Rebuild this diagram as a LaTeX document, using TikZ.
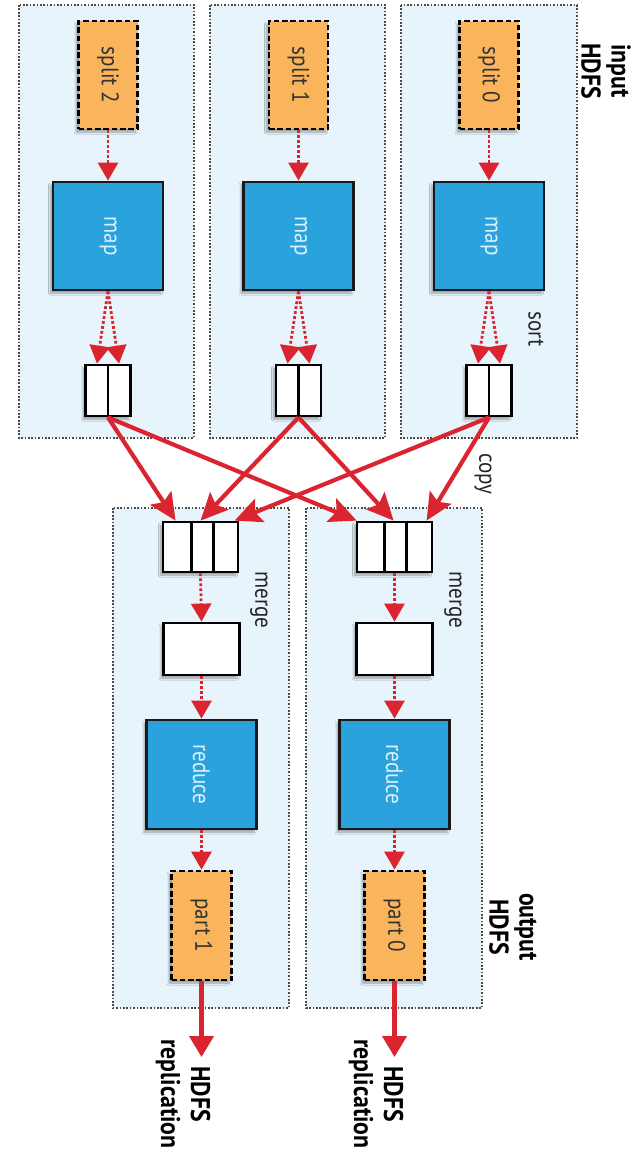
\documentclass[tikz,border=0pt]{standalone}
\usepackage{fontspec}
\setmainfont{PT Sans}
\newfontfamily\condfont[FakeStretch=0.88]{PT Sans}
\usetikzlibrary{arrows.meta,shadows.blur,calc}

\definecolor{panelfill}{HTML}{E8F4FB}
\definecolor{panelline}{HTML}{4A4A4A}
\definecolor{filefill}{HTML}{F9B45C}
\definecolor{taskfill}{HTML}{2AA2DD}
\definecolor{tasktext}{HTML}{DDF0FB}
\definecolor{flowred}{HTML}{DA2430}

\tikzset{
  panel/.style={draw=panelline, line width=1.4pt, dash pattern=on 1.7pt off 1.7pt, fill=panelfill},
  softshadow/.style={blur shadow={shadow xshift=-2.5pt, shadow yshift=-3pt, shadow blur steps=6, shadow opacity=35}},
  filebox/.style={draw=black, line width=2.8pt, dash pattern=on 5.5pt off 2.8pt, fill=filefill,
    text=black!80, font=\condfont\fontsize{24}{26}\selectfont, inner sep=0pt, softshadow},
  taskbox/.style={draw=black!90, line width=2.8pt, fill=taskfill, text=tasktext,
    font=\condfont\fontsize{24}{26}\selectfont, inner sep=0pt, softshadow},
  bufbox/.style={draw=black, line width=2.8pt, fill=white, inner sep=0pt, softshadow},
  divider/.style={draw=black, line width=2.8pt},
  flow/.style={draw=flowred, line width=2.8pt, dash pattern=on 2.8pt off 2.2pt,
    -{Triangle[length=18pt,width=20pt]}},
  copyflow/.style={draw=flowred, line width=4.2pt, -{Stealth[length=27pt,width=25pt,inset=5pt]}},
  outflow/.style={draw=flowred, line width=4.2pt, -{Triangle[length=21pt,width=24pt]}},
  note/.style={rotate=-90, text=black!85, font=\condfont\fontsize{24}{26}\selectfont, inner sep=0pt},
  heading/.style={rotate=-90, align=center, text=black, font=\condfont\bfseries\fontsize{27}{30}\selectfont, inner sep=0pt},
}

\begin{document}
\begin{tikzpicture}[x=1pt,y=-1pt]
\useasboundingbox (0,0) rectangle (638,1151);

% map-side panels (one per input split)
\draw[panel] (19,5) rectangle (194,438);
\draw[panel] (210,5) rectangle (385,438);
\draw[panel] (401,5) rectangle (577,438);

% reduce-side panels
\draw[panel] (113,508) rectangle (289,1008);
\draw[panel] (306,508) rectangle (482,1008);

% input splits
\node[filebox, minimum width=59pt, minimum height=108pt] (s2) at (108,75) {\rotatebox{-90}{split 2}};
\node[filebox, minimum width=59pt, minimum height=108pt] (s1) at (298.5,75) {\rotatebox{-90}{split 1}};
\node[filebox, minimum width=59pt, minimum height=108pt] (s0) at (489,75) {\rotatebox{-90}{split 0}};

% map tasks
\node[taskbox, minimum width=110pt, minimum height=108pt] (m2) at (108,236) {\rotatebox{-90}{map}};
\node[taskbox, minimum width=110pt, minimum height=108pt] (m1) at (298.5,236) {\rotatebox{-90}{map}};
\node[taskbox, minimum width=110pt, minimum height=108pt] (m0) at (489,236) {\rotatebox{-90}{map}};

% sorted map outputs, two partitions each
\node[bufbox, minimum width=45pt, minimum height=51pt] (b2) at (108,390.5) {};
\node[bufbox, minimum width=45pt, minimum height=51pt] (b1) at (298.5,390.5) {};
\node[bufbox, minimum width=45pt, minimum height=51pt] (b0) at (489,390.5) {};
\foreach \b in {b0,b1,b2} \draw[divider] (\b.north) -- (\b.south);

% merge buffers on the reduce side
\node[bufbox, minimum width=75pt, minimum height=50pt] (g1) at (200.5,547) {};
\node[bufbox, minimum width=75pt, minimum height=50pt] (g0) at (394.5,547) {};
\draw[divider] ([xshift=30pt]g1.north west) -- ([xshift=30pt]g1.south west);
\draw[divider] ([xshift=52pt]g1.north west) -- ([xshift=52pt]g1.south west);
\draw[divider] ([xshift=29pt]g0.north west) -- ([xshift=29pt]g0.south west);
\draw[divider] ([xshift=51pt]g0.north west) -- ([xshift=51pt]g0.south west);

% merged reduce inputs
\node[bufbox, minimum width=76pt, minimum height=52pt] (w1) at (201.5,649) {};
\node[bufbox, minimum width=76pt, minimum height=52pt] (w0) at (394.5,649) {};

% reduce tasks
\node[taskbox, minimum width=110pt, minimum height=109pt] (r1) at (201.5,774.5) {\rotatebox{-90}{reduce}};
\node[taskbox, minimum width=110pt, minimum height=109pt] (r0) at (394.5,774.5) {\rotatebox{-90}{reduce}};

% output parts
\node[filebox, minimum width=60pt, minimum height=109pt] (p1) at (201.5,925.5) {\rotatebox{-90}{part 1}};
\node[filebox, minimum width=60pt, minimum height=109pt] (p0) at (394.5,925.5) {\rotatebox{-90}{part 0}};

% ends of the replication arrows
\coordinate (e1) at (201.5,1057);
\coordinate (e0) at (394.5,1057);

% map side flow
\foreach \i in {0,1,2} {
  \draw[flow] (s\i.south) -- (m\i.north);
  \draw[flow] (m\i.south) -- ([xshift=-11pt]b\i.north);
  \draw[flow] (m\i.south) -- ([xshift=11pt]b\i.north);
}

% shuffle: every map output is copied to every reducer
\draw[copyflow] (b2.south) -- ([xshift=14pt]g1.north west);
\draw[copyflow] (b2.south) -- ([xshift=1pt]g0.north west);
\draw[copyflow] (b1.south) -- ([xshift=39pt]g1.north west);
\draw[copyflow] (b1.south) -- ([xshift=38pt]g0.north west);
\draw[copyflow] (b0.south) -- ([xshift=73pt]g1.north west);
\draw[copyflow] (b0.south) -- ([xshift=71pt]g0.north west);

% reduce side flow
\foreach \i in {0,1} {
  \draw[flow] (g\i.south) -- (w\i.north);
  \draw[flow] (w\i.south) -- (r\i.north);
  \draw[flow] (r\i.south) -- (p\i.north);
  \draw[outflow] (p\i.south) -- (e\i);
}

% labels
\node[note] (lsort) at (536,329) {sort};
\node[note] (lcopy) at (483,474) {copy};
\node[note] (lmerge1) at (259,600) {merge};
\node[note] (lmerge0) at (453,600) {merge};
\node[heading] (lin) at (606,71) {input\\HDFS};
\node[heading] (lout) at (513,927) {output\\HDFS};
\node[heading] (lrep1) at (183,1094) {HDFS\\replication};
\node[heading] (lrep0) at (376,1094) {HDFS\\replication};
\end{tikzpicture}
\end{document}
